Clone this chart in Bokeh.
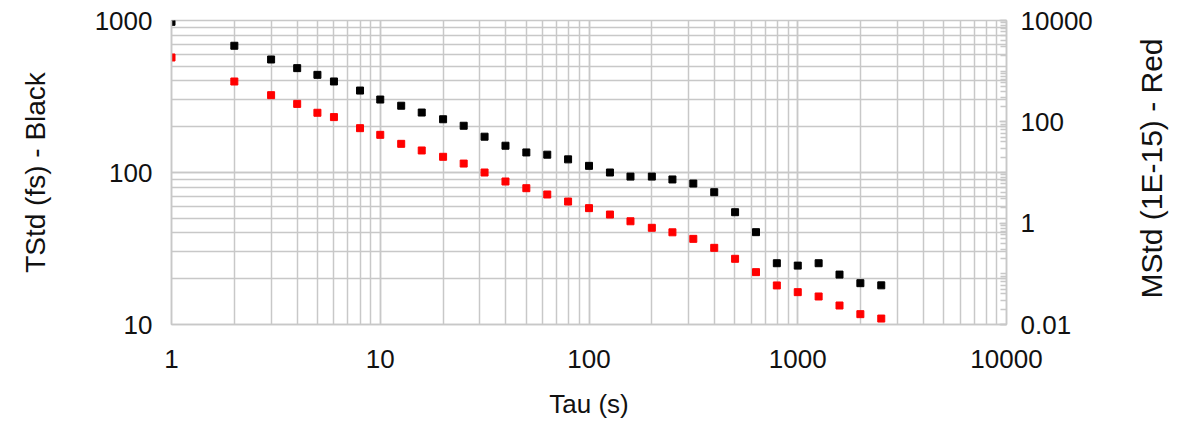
import math
from bokeh.plotting import figure
from bokeh.layouts import row
from bokeh.models import (Range1d, LogScale, LogAxis, FixedTicker, CustomJSTickFormatter)
from bokeh.core.properties import value
from bokeh.embed import file_html
from bokeh.resources import INLINE

# ---- data ----
tau = [1, 2, 3, 4, 5, 6, 8, 10, 12.6, 15.8, 20, 25.1, 31.6, 39.8, 50.1, 63.1, 79.4,
       100, 126, 158, 200, 251, 316, 398, 501, 631, 794, 1000, 1259, 1585, 1995, 2512]
tstd = [980, 682, 554, 486, 439, 397, 346, 302, 275, 248, 224, 203, 172, 150, 135.5, 131, 122,
        110.6, 100, 94, 94, 90, 84.6, 74.2, 54.8, 40.5, 25.3, 24.4, 25.3, 21.3, 18.7, 18.1]
mstd = [1862, 625, 336, 226, 151, 124, 75, 55.4, 36.8, 27.2, 20.4, 15.0, 10.0, 6.64, 4.90, 3.68, 2.67,
        1.98, 1.48, 1.09, 0.81, 0.66, 0.49, 0.326, 0.198, 0.108, 0.059, 0.0435, 0.0357, 0.0237, 0.016, 0.0131]

x_ticks = [1, 10, 100, 1000, 10000]
left_ticks = [10, 100, 1000]
right_ticks = [0.01, 1, 100, 10000]

x_title = "Tau (s)"
left_title = "TStd (fs) - Black"
right_title = "MStd (1E-15) - Red"

FONT = "Liberation Sans"
GRID = "#c8c8c8"
TXT = "#111111"


def minors(lo_exp, hi_exp):
    out = []
    for e in range(lo_exp, hi_exp):
        for m in range(1, 10):
            out.append(m * 10 ** e)
    out.append(10 ** hi_exp)
    return out


FW, FH = 835, 304
H = 421
p = figure(width=1120, height=H, frame_width=FW, frame_height=FH,
           x_axis_type="log", y_axis_type="log",
           x_range=Range1d(1, 10000), y_range=Range1d(10, 1000),
           output_backend="svg", toolbar_location=None,
           min_border_left=171, min_border_right=114, min_border_top=20, min_border_bottom=97)
p.background_fill_color = "white"
p.border_fill_color = "white"
p.outline_line_color = GRID
p.outline_line_width = 1.5

p.extra_y_ranges = {"m": Range1d(0.01, 10000)}
p.extra_y_scales = {"m": LogScale()}

fmt = CustomJSTickFormatter(code="return String(tick);")

# x axis
xa = p.xaxis[0]
xa.ticker = FixedTicker(ticks=x_ticks, minor_ticks=minors(0, 4))
xa.formatter = fmt
xa.axis_label = x_title

# left axis
ya = p.yaxis[0]
ya.ticker = FixedTicker(ticks=left_ticks, minor_ticks=minors(1, 3))
ya.formatter = fmt
ya.axis_label = left_title

# right axis (its title is drawn in a side panel so it reads bottom-to-top)
ra = LogAxis(y_range_name="m",
             ticker=FixedTicker(ticks=right_ticks, minor_ticks=minors(-2, 4)),
             formatter=fmt)
p.add_layout(ra, "right")

for ax in (xa, ya, ra):
    ax.axis_line_color = GRID
    ax.axis_line_width = 1.5
    ax.major_tick_line_color = GRID
    ax.minor_tick_line_color = GRID
    ax.major_tick_out = 0
    ax.minor_tick_out = 0
    ax.major_tick_in = 0
    ax.minor_tick_in = 0
    ax.major_label_text_font = FONT
    ax.major_label_text_font_size = "26px"
    ax.major_label_text_color = TXT
    ax.axis_label_text_font = FONT
    ax.axis_label_text_font_style = "normal"
    ax.axis_label_text_color = TXT

ra.major_tick_in = 7
ra.minor_tick_in = 6
ra.major_tick_line_width = 1.5
ra.minor_tick_line_width = 1.5

xa.major_label_standoff = 25
xa.axis_label_standoff = 18
xa.axis_label_text_font_size = "26px"

ya.major_label_standoff = 19
ya.axis_label_standoff = 41
ya.axis_label_text_font_size = "28px"

ra.major_label_standoff = 14

# grids: every 1..9 per decade
for g in (p.xgrid[0], p.ygrid[0]):
    g.grid_line_color = GRID
    g.grid_line_width = 1.5
    g.minor_grid_line_color = GRID
    g.minor_grid_line_width = 1.5

p.scatter(tau, tstd, marker="square", size=7, color="#000000")
p.scatter(tau, mstd, marker="square", size=7, color="#ff0000", y_range_name="m")

# side panel holding the right-hand title
SW = 52
side = figure(width=SW, height=H, x_range=Range1d(0, SW), y_range=Range1d(0, H),
              output_backend="svg", toolbar_location=None,
              min_border_left=0, min_border_right=0, min_border_top=0, min_border_bottom=0)
side.axis.visible = False
side.grid.visible = False
side.outline_line_color = None
side.background_fill_color = "white"
side.border_fill_color = "white"
side.text(x=[31], y=[H - 205], text=[right_title], angle=math.pi / 2,
          text_align="center", text_baseline="middle",
          text_font=value(FONT), text_font_size="30px", text_color=TXT)

layout = row(p, side, spacing=0)
open("out.html", "w").write(file_html(layout, INLINE))
